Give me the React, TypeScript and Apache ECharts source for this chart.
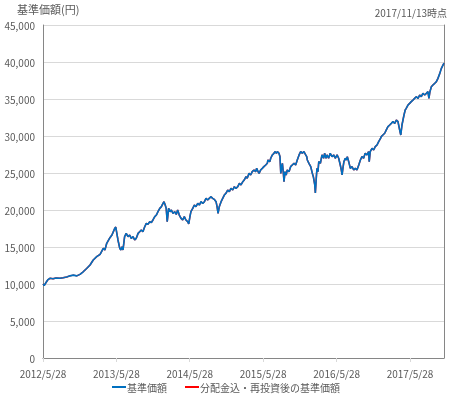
import React, { useEffect, useRef } from "react";
import * as echarts from "echarts";

const dates: string[] = [
  "2012-05-28","2012-06-03","2012-06-12","2012-06-22","2012-07-02","2012-07-17","2012-08-01","2012-08-21","2012-09-05","2012-09-23",
  "2012-10-09","2012-10-26","2012-11-12","2012-11-28","2012-12-14","2012-12-31","2013-01-17","2013-02-02","2013-02-19","2013-03-08",
  "2013-03-24","2013-04-01","2013-04-10","2013-04-26","2013-05-06","2013-05-20","2013-05-25","2013-06-05","2013-06-14","2013-06-19",
  "2013-06-25","2013-06-30","2013-07-08","2013-07-16","2013-07-25","2013-08-02","2013-08-10","2013-08-19","2013-08-27","2013-09-04",
  "2013-09-13","2013-09-21","2013-09-29","2013-10-07","2013-10-16","2013-10-24","2013-11-01","2013-11-10","2013-11-18","2013-11-26",
  "2013-12-05","2013-12-13","2013-12-21","2013-12-30","2014-01-07","2014-01-15","2014-01-20","2014-01-26","2014-01-31","2014-02-05",
  "2014-02-12","2014-02-19","2014-02-25","2014-03-06","2014-03-14","2014-03-22","2014-03-29","2014-04-06","2014-04-15","2014-04-23",
  "2014-05-01","2014-05-09","2014-05-18","2014-05-23","2014-05-29","2014-06-03","2014-06-12","2014-06-20","2014-06-28","2014-07-07",
  "2014-07-15","2014-07-23","2014-08-01","2014-08-09","2014-08-17","2014-08-25","2014-09-02","2014-09-11","2014-09-19","2014-09-27",
  "2014-10-06","2014-10-11","2014-10-16","2014-10-22","2014-10-31","2014-11-08","2014-11-16","2014-11-24","2014-12-03","2014-12-11",
  "2014-12-19","2014-12-28","2015-01-05","2015-01-13","2015-01-22","2015-01-30","2015-02-07","2015-02-16","2015-02-23","2015-03-04",
  "2015-03-10","2015-03-19","2015-03-27","2015-04-04","2015-04-13","2015-04-21","2015-04-26","2015-05-03","2015-05-08","2015-05-16",
  "2015-05-24","2015-06-01","2015-06-10","2015-06-18","2015-06-21","2015-06-30","2015-07-05","2015-07-13","2015-07-21","2015-07-26",
  "2015-08-02","2015-08-07","2015-08-15","2015-08-20","2015-08-24","2015-08-29","2015-09-01","2015-09-06","2015-09-09","2015-09-14",
  "2015-09-20","2015-09-25","2015-10-04","2015-10-12","2015-10-20","2015-10-29","2015-11-06","2015-11-14","2015-11-23","2015-12-01",
  "2015-12-09","2015-12-17","2015-12-26","2015-12-31","2016-01-03","2016-01-11","2016-01-20","2016-01-28","2016-02-02","2016-02-09",
  "2016-02-12","2016-02-17","2016-02-20","2016-02-25","2016-02-29","2016-03-08","2016-03-16","2016-03-24","2016-03-29","2016-04-05",
  "2016-04-10","2016-04-18","2016-04-26","2016-05-05","2016-05-13","2016-05-21","2016-05-30","2016-06-07","2016-06-15","2016-06-20",
  "2016-06-24","2016-06-28","2016-07-03","2016-07-10","2016-07-15","2016-07-20","2016-07-27","2016-08-04","2016-08-12","2016-08-21",
  "2016-08-29","2016-09-06","2016-09-15","2016-09-23","2016-10-01","2016-10-09","2016-10-17","2016-10-26","2016-11-03","2016-11-06",
  "2016-11-11","2016-11-20","2016-11-28","2016-12-06","2016-12-15","2016-12-23","2016-12-31","2017-01-05","2017-01-13","2017-01-22",
  "2017-01-30","2017-02-07","2017-02-16","2017-02-24","2017-03-04","2017-03-13","2017-03-21","2017-03-29","2017-04-03","2017-04-08",
  "2017-04-12","2017-04-18","2017-04-23","2017-04-28","2017-05-04","2017-05-09","2017-05-18","2017-05-26","2017-06-03","2017-06-12",
  "2017-06-20","2017-06-28","2017-07-07","2017-07-15","2017-07-23","2017-07-31","2017-08-09","2017-08-17","2017-08-25","2017-08-30",
  "2017-09-04","2017-09-11","2017-09-19","2017-09-28","2017-10-06","2017-10-14","2017-10-23","2017-10-31","2017-11-08","2017-11-13",
];

const navValues: number[] = [
  10000,9800,10200,10600,10770,10700,10800,10770,10850,10950,
  11100,11200,11100,11300,11650,12100,12570,13240,13690,14010,
  14820,14600,15500,16260,16620,17520,17700,15950,14820,14600,
  15040,14600,16390,16840,16390,16620,16170,16390,15950,16170,
  16840,17070,17300,17070,17740,18200,18060,18420,18290,18650,
  19100,19320,19770,20220,20450,20900,21120,20670,20220,18420,
  20220,19770,20000,19550,19770,19400,20000,19320,18870,18650,
  19100,18650,18420,18110,19100,19770,20220,20670,20450,20900,
  20670,21120,20900,21120,21570,21350,21570,21800,21570,21440,
  21120,20450,19550,20450,21120,21570,22020,22250,22700,22470,
  22930,22700,23150,22930,23150,23600,23380,23830,24050,24500,
  24300,24950,24730,25180,25410,25180,25630,25180,24950,25410,
  25630,25860,26080,26310,26760,26530,26990,27440,27660,27890,
  27660,27890,27660,27210,24950,25860,26310,24950,23830,25180,
  24730,25410,25180,25860,26080,26310,26080,26760,27440,27890,
  27660,27890,27440,27210,26760,26310,25860,24950,24500,23380,
  22300,24500,25630,25180,26530,26310,27440,26990,27660,26990,
  27440,26990,27660,27210,27440,26990,27440,26990,26080,25410,
  24730,25630,26530,26990,26760,27210,26530,25630,25860,25410,
  25630,25410,26080,26760,27210,26990,27660,27440,27890,26530,
  27890,28340,28110,28570,28790,29240,29600,29920,30140,30370,
  30820,31260,31490,31710,31940,31710,32160,31940,31260,30590,
  30140,31490,32160,32840,33510,33740,34190,34410,34640,34860,
  35090,35310,35090,35540,35310,35760,35540,35760,35990,35090,
  35990,36660,36890,37120,37340,37790,38460,39140,39590,39850,
];

// No distributions were paid, so the reinvested series equals the NAV series.
const reinvestedValues: number[] = [...navValues];

const xStart = "2012-05-28";
const xEnd = "2017-11-13";
const xTickDates: string[] = ["2012-05-28", "2013-05-28", "2014-05-28", "2015-05-28", "2016-05-28", "2017-05-28"];

const seriesNames: string[] = ["基準価額", "分配金込・再投資後の基準価額"];
const yTitle = "基準価額(円)";
const asOfText = "2017/11/13時点";

const toTs = (s: string) => {
  const [y, m, d] = s.split("-").map(Number);
  return Date.UTC(y, m - 1, d);
};

export default function App() {
  const ref = useRef<HTMLDivElement>(null);
  useEffect(() => {
    if (!ref.current) return;
    const chart = echarts.init(ref.current, undefined, { renderer: "svg" });
    const font = "'Noto Sans CJK JP', 'Noto Sans', sans-serif";
    const grey = "#595959";
    const tickVals = xTickDates.map(toTs);
    chart.setOption({
      animation: false,
      textStyle: { fontFamily: font },
      title: [
        { text: yTitle, left: 17, top: 3, padding: 0, textStyle: { fontSize: 11, fontWeight: "normal", color: grey, fontFamily: font } },
        { text: asOfText, right: 5, top: 7, padding: 0, textStyle: { fontSize: 10, fontWeight: "normal", color: grey, fontFamily: font } },
      ],
      legend: {
        bottom: 1,
        left: "center",
        icon: "rect",
        itemWidth: 14,
        itemHeight: 2,
        itemGap: 18,
        textStyle: { fontSize: 10, color: grey, fontFamily: font, padding: [0, 0, 0, -4] },
        data: seriesNames,
      },
      grid: { left: 43, right: 8, top: 25, bottom: 40, containLabel: false },
      xAxis: [
        {
          type: "value",
          min: toTs(xStart),
          max: toTs(xEnd),
          axisLine: { show: true, lineStyle: { color: "#d9d9d9", width: 1 } },
          axisTick: { show: true, customValues: tickVals, length: 4, lineStyle: { color: "#d9d9d9" } },
          axisLabel: {
            customValues: tickVals,
            color: grey,
            fontSize: 10,
            margin: 10,
            hideOverlap: false,
            showMinLabel: true,
            formatter: (v: number) => {
              const d = new Date(v);
              return `${d.getUTCFullYear()}/${d.getUTCMonth() + 1}/${d.getUTCDate()}`;
            },
          },
          splitLine: { show: false },
        },
        {
          type: "value",
          position: "top",
          min: 0,
          max: 1,
          axisLine: { show: true, lineStyle: { color: "#868686", width: 1 } },
          axisTick: { show: false },
          axisLabel: { show: false },
          splitLine: { show: false },
        },
      ],
      yAxis: [
        {
          type: "value",
          min: 0,
          max: 45000,
          interval: 5000,
          axisLine: { show: true, lineStyle: { color: "#868686", width: 1 } },
          axisTick: { show: false },
          axisLabel: {
            color: grey,
            fontSize: 10,
            margin: 8,
            formatter: (v: number) => v.toLocaleString("en-US"),
          },
          splitLine: { show: true, lineStyle: { color: "#d9d9d9", width: 1 } },
        },
        {
          type: "value",
          position: "right",
          min: 0,
          max: 1,
          axisLine: { show: true, lineStyle: { color: "#868686", width: 1 } },
          axisTick: { show: false },
          axisLabel: { show: false },
          splitLine: { show: false },
        },
      ],
      series: [
        {
          name: seriesNames[1],
          type: "line",
          data: dates.map((d, i) => [toTs(d), reinvestedValues[i]]),
          showSymbol: false,
          lineStyle: { color: "#ff0000", width: 1.5 },
          itemStyle: { color: "#ff0000" },
          z: 1,
        },
        {
          name: seriesNames[0],
          type: "line",
          data: dates.map((d, i) => [toTs(d), navValues[i]]),
          showSymbol: false,
          lineStyle: { color: "#0070c0", width: 1.6 },
          itemStyle: { color: "#0070c0" },
          z: 2,
        },
      ],
    });
    return () => chart.dispose();
  }, []);
  return <div ref={ref} style={{ position: "fixed", left: 0, top: 0, width: 452, height: 398 }} />;
}
